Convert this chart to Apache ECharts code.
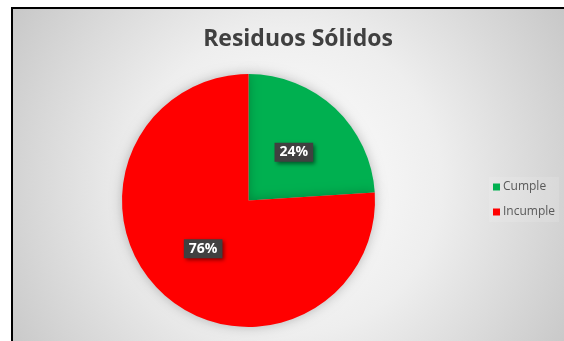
<!DOCTYPE html>
<html>
<head>
<meta charset="utf-8">
<script src="https://cdn.jsdelivr.net/npm/echarts@6/dist/echarts.min.js"></script>
<style>
  html, body { margin: 0; padding: 0; background: #ffffff; }
  #chart { width: 564px; height: 341px; }
</style>
</head>
<body>
<div id="chart"></div>
<script>
// Compliance share for solid waste
const categories = ['Cumple', 'Incumple'];
const values = [24, 76];
const sliceColors = ['#00B050', '#FF0000'];
const titleText = 'Residuos Sólidos';

const chart = echarts.init(document.getElementById('chart'));

const pieData = categories.map((name, i) => ({
  name: name,
  value: values[i],
  itemStyle: { color: sliceColors[i] }
}));

chart.setOption({
  animation: false,
  textStyle: { fontFamily: '"Open Sans", sans-serif' },
  graphic: [{
    type: 'rect',
    z: -10,
    silent: true,
    shape: { x: 12, y: 8, width: 600, height: 370 },
    style: {
      fill: new echarts.graphic.RadialGradient(0.46, 0.47, 0.92, [
        { offset: 0, color: '#ffffff' },
        { offset: 0.45, color: '#eeeeee' },
        { offset: 1, color: '#c4c4c4' }
      ]),
      stroke: '#000000',
      lineWidth: 2
    }
  }],
  title: {
    text: titleText,
    left: 293,
    top: 23,
    textAlign: 'center',
    textStyle: {
      fontFamily: '"Open Sans", sans-serif',
      fontSize: 23,
      fontWeight: 'bold',
      color: '#404040'
    }
  },
  legend: {
    orient: 'vertical',
    left: 489,
    top: 177,
    itemWidth: 7,
    itemHeight: 7,
    itemGap: 13,
    icon: 'rect',
    padding: [4, 4],
    backgroundColor: 'rgba(255,255,255,0.12)',
    textStyle: { fontSize: 12, color: '#595959', padding: [0, 0, 0, -2] },
    data: categories
  },
  series: [{
    type: 'pie',
    center: [248.5, 200.5],
    radius: 126.5,
    startAngle: 90,
    clockwise: true,
    avoidLabelOverlap: false,
    itemStyle: {
      shadowBlur: 12,
      shadowColor: 'rgba(0,0,0,0.25)'
    },
    label: {
      show: true,
      position: 'inside',
      formatter: '{d}%',
      color: '#ffffff',
      fontSize: 14,
      fontWeight: 'bold',
      backgroundColor: '#404040',
      padding: [3, 5, 2, 5],
      shadowBlur: 4,
      shadowColor: 'rgba(0,0,0,0.5)',
      shadowOffsetX: 2,
      shadowOffsetY: 2
    },
    labelLine: { show: false },
    emphasis: { disabled: true },
    data: pieData
  }]
});
</script>
</body>
</html>
